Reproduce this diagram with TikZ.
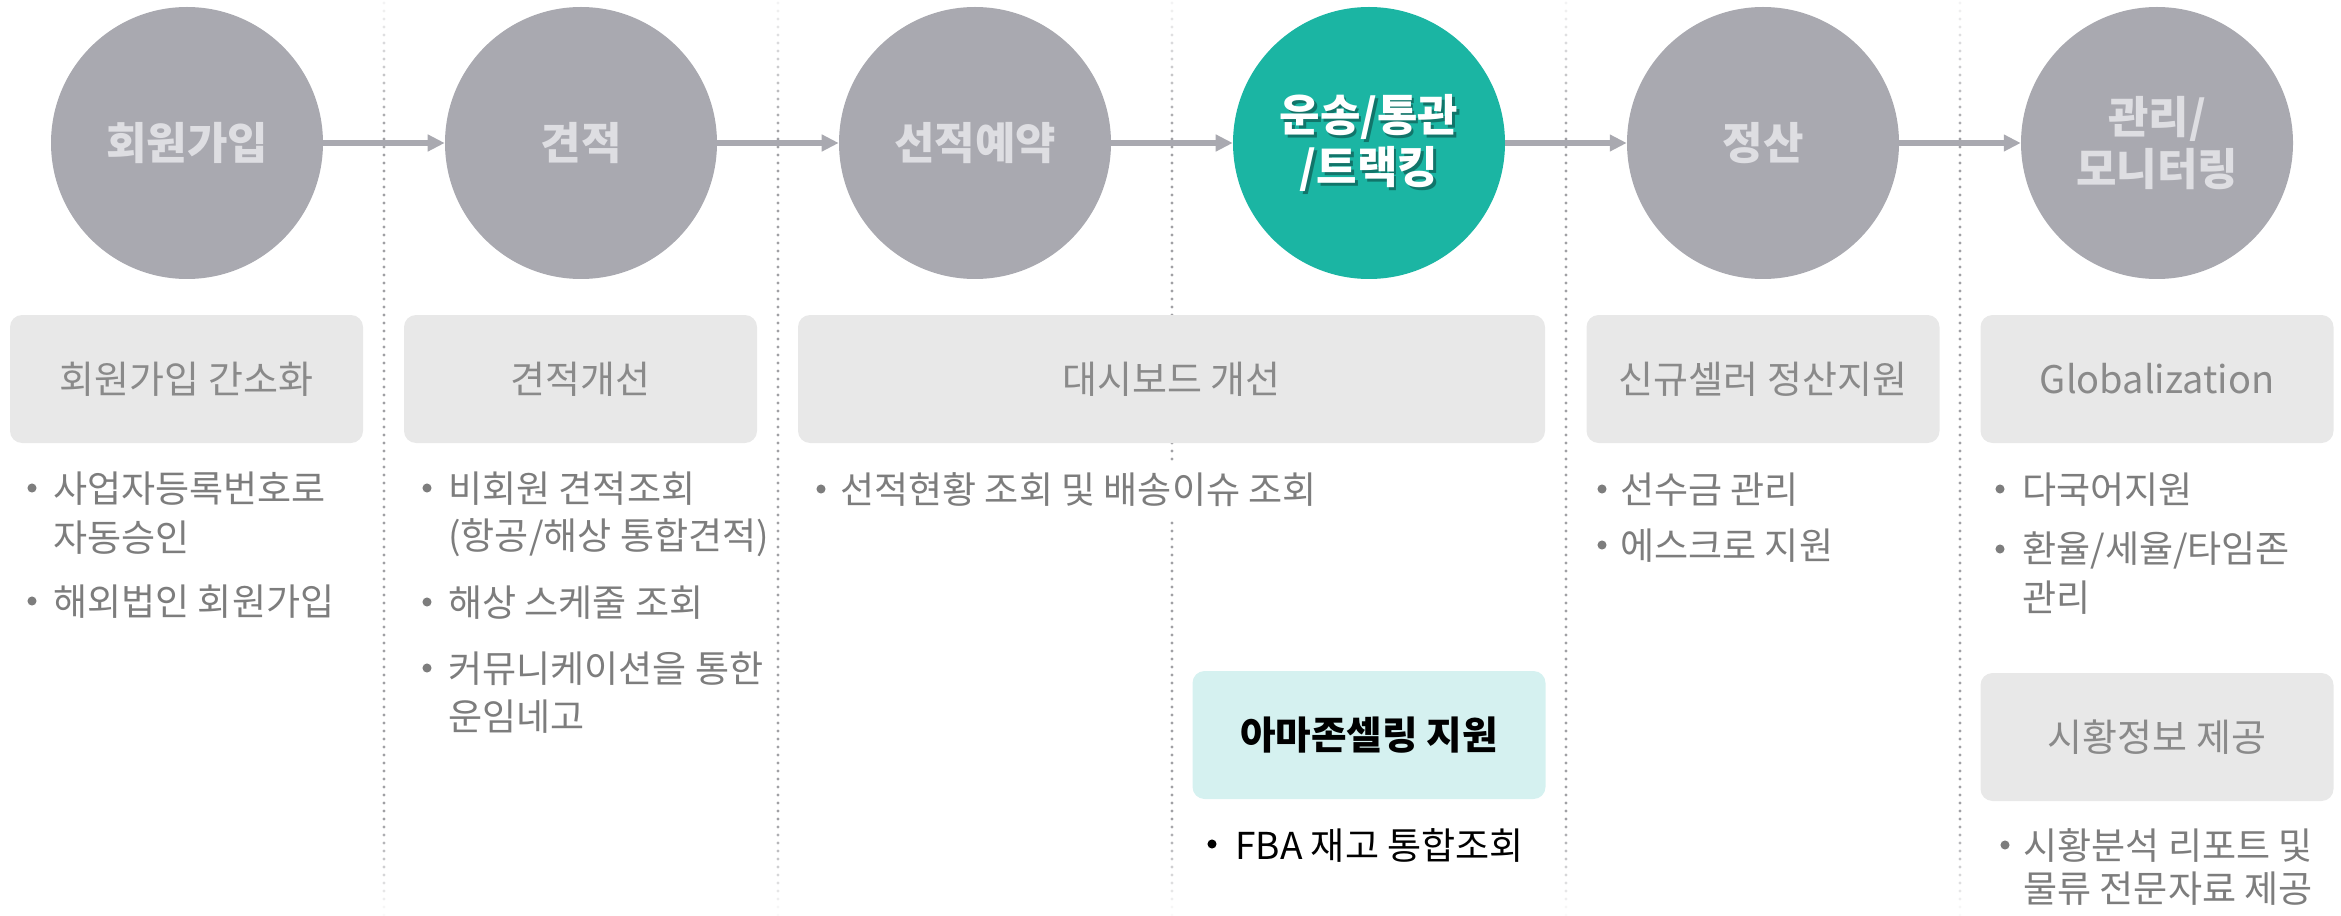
\documentclass[tikz,border=0pt]{standalone}
\usepackage{fontspec}
\setmainfont{Noto Sans CJK KR}
\usetikzlibrary{arrows.meta}

\definecolor{stagegray}{RGB}{169,169,176}
\definecolor{stageteal}{RGB}{27,181,163}
\definecolor{stagetext}{RGB}{222,222,226}
\definecolor{boxgray}{RGB}{232,232,232}
\definecolor{boxteal}{RGB}{213,241,240}
\definecolor{headgray}{RGB}{138,138,138}
\definecolor{itemgray}{RGB}{125,125,125}
\definecolor{sepgray}{RGB}{160,160,164}

\tikzset{
  stage/.style={circle, fill=stagegray, minimum size=204pt, inner sep=0pt, text=stagetext, align=center, font=\fontsize{33}{39}\selectfont\bfseries},
  flow/.style={draw=stagegray, line width=4.2pt, -{Triangle[length=12.75pt,width=12pt]}},
  topic/.style={rounded corners=9pt, fill=boxgray, minimum width=264.75pt, minimum height=96pt, inner sep=0pt, text=headgray, font=\fontsize{28.5}{32}\selectfont},
  item/.style={anchor=west, inner sep=0pt, text=itemgray, font=\fontsize{27.8}{30}\selectfont},
  dot/.style={circle, fill=itemgray, minimum size=6.8pt, inner sep=0pt},
}

\begin{document}
\begin{tikzpicture}[x=0.75pt,y=0.75pt,yscale=-1,xscale=1]
\useasboundingbox (0,0) rectangle (2341,916);

%Dotted separators, faded at both ends
\foreach \sx in {384,778,1172,1566,1960}{
  \foreach \sy in {3,11,...,915}{
    \pgfmathsetmacro\op{max(0.05,min(1,0.1+\sy/150,(916-\sy)/95))}
    \fill[sepgray,opacity=\op] (\sx,\sy) circle (1.2pt);
  }
}

%Stages
\node[stage] (join) at (187,143) {회원가입};
\node[stage] (quote) at (581,143) {견적};
\node[stage] (book) at (975,143) {선적예약};
\node[stage, fill=stageteal] (track) at (1369,143) {};
\node[stage] (settle) at (1763,143) {정산};
\node[stage] (manage) at (2157,143) {관리/\\모니터링};

% Text Node
\node[stage, fill=none, minimum size=0pt, text=black, opacity=0.35] (trackshade) at (1371.5,145.5) {운송/통관\\/트랙킹};
\node[stage, fill=none, minimum size=0pt, text=white] (tracktext) at (1369,143) {운송/통관\\/트랙킹};

%Arrows
\draw[flow] (join) -- (quote);
\draw[flow] (quote) -- (book);
\draw[flow] (book) -- (track);
\draw[flow] (track) -- (settle);
\draw[flow] (settle) -- (manage);

%Topic boxes
\node[topic] (simple) at (186.5,379) {회원가입 간소화};
\node[topic] (better) at (580.5,379) {견적개선};
\node[topic, minimum width=560.25pt] (board) at (1171.5,379) {대시보드 개선};
\node[topic] (seller) at (1763,379) {신규셀러 정산지원};
\node[topic] (global) at (2157,379) {Globalization};
\node[topic, fill=boxteal, text=black, font=\fontsize{29}{32}\selectfont\bfseries] (amazon) at (1369,735) {아마존셀링 지원};
\node[topic] (market) at (2157,737) {시황정보 제공};

% Text Node
\node[dot] (d11) at (32,488) {};
\node[item] (t11) at (53,489) {사업자등록번호로};
\node[item] (t12) at (53,538) {자동승인};
\node[dot] (d13) at (32,601) {};
\node[item] (t13) at (53,602) {해외법인 회원가입};

% Text Node
\node[dot] (d21) at (427,488) {};
\node[item] (t21) at (448,489) {비회원 견적조회};
\node[item] (t22) at (448,538) {(항공/해상 통합견적)};
\node[dot] (d23) at (427,602) {};
\node[item] (t23) at (448,603) {해상 스케줄 조회};
\node[dot] (d24) at (427,668) {};
\node[item] (t24) at (448,669) {커뮤니케이션을 통한};
\node[item] (t25) at (448,717) {운임네고};

% Text Node
\node[dot] (d31) at (821,489) {};
\node[item, fill=white, inner ysep=9pt] (t31) at (840,490) {선적현황 조회 및 배송이슈 조회};

% Text Node
\node[dot, fill=black] (d41) at (1212,844) {};
\node[item, text=black] (t41) at (1235,845) {FBA 재고 통합조회};

% Text Node
\node[dot] (d51) at (1602,489) {};
\node[item] (t51) at (1620,490) {선수금 관리};
\node[dot] (d52) at (1602,545) {};
\node[item] (t52) at (1620,546) {에스크로 지원};

% Text Node
\node[dot] (d61) at (2000,489) {};
\node[item] (t61) at (2022,490) {다국어지원};
\node[dot] (d62) at (2000,549) {};
\node[item] (t62) at (2022,550) {환율/세율/타임존};
\node[item] (t63) at (2022,598) {관리};
\node[dot] (d64) at (2005,845) {};
\node[item] (t64) at (2023,846) {시황분석 리포트 및};
\node[item] (t65) at (2023,889) {물류 전문자료 제공};

\end{tikzpicture}
\end{document}
